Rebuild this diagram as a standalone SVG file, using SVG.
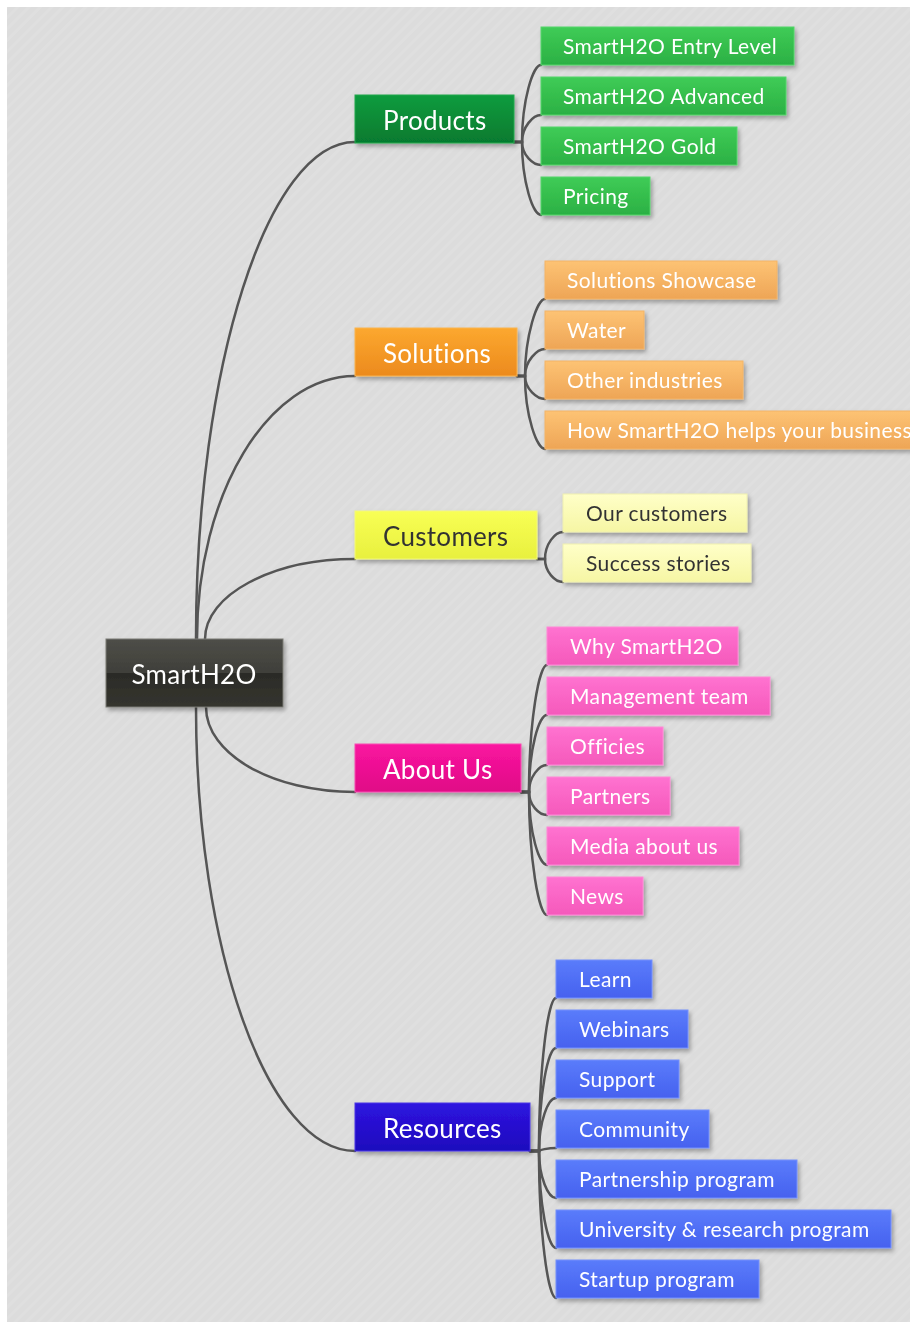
<svg xmlns="http://www.w3.org/2000/svg" width="910" height="1329" viewBox="0 0 910 1329">
<defs>
<pattern id="bgp" patternUnits="userSpaceOnUse" width="8" height="8" patternTransform="rotate(45)">
<rect width="8" height="8" fill="#dcdcdc"/>
<rect width="3" height="8" fill="#dfdfdf"/>
</pattern>
<filter id="sh" x="-10%" y="-20%" width="130%" height="160%">
<feDropShadow dx="2" dy="3" stdDeviation="2" flood-color="#000" flood-opacity="0.3"/>
</filter>
<linearGradient id="gRoot" x1="0" y1="0" x2="0" y2="1">
<stop offset="0" stop-color="#4e4e48"/><stop offset="0.5" stop-color="#3f3f3a"/><stop offset="0.5" stop-color="#2b2b27"/><stop offset="1" stop-color="#35352f"/>
</linearGradient>
<linearGradient id="gProdP" x1="0" y1="0" x2="0" y2="1"><stop offset="0" stop-color="#0f9c3e"/><stop offset="1" stop-color="#067a2f"/></linearGradient>
<linearGradient id="gProdC" x1="0" y1="0" x2="0" y2="1"><stop offset="0" stop-color="#3fcc56"/><stop offset="1" stop-color="#2bb044"/></linearGradient>
<linearGradient id="gSolP" x1="0" y1="0" x2="0" y2="1"><stop offset="0" stop-color="#fca82f"/><stop offset="1" stop-color="#ec8a1d"/></linearGradient>
<linearGradient id="gSolC" x1="0" y1="0" x2="0" y2="1"><stop offset="0" stop-color="#fdc374"/><stop offset="1" stop-color="#eea556"/></linearGradient>
<linearGradient id="gCusP" x1="0" y1="0" x2="0" y2="1"><stop offset="0" stop-color="#f8ff55"/><stop offset="1" stop-color="#e8f03e"/></linearGradient>
<linearGradient id="gCusC" x1="0" y1="0" x2="0" y2="1"><stop offset="0" stop-color="#ffffc8"/><stop offset="1" stop-color="#f6f6a4"/></linearGradient>
<linearGradient id="gAbP" x1="0" y1="0" x2="0" y2="1"><stop offset="0" stop-color="#fa14a0"/><stop offset="1" stop-color="#e00c86"/></linearGradient>
<linearGradient id="gAbC" x1="0" y1="0" x2="0" y2="1"><stop offset="0" stop-color="#ff72d0"/><stop offset="1" stop-color="#f559bb"/></linearGradient>
<linearGradient id="gResP" x1="0" y1="0" x2="0" y2="1"><stop offset="0" stop-color="#2f14e0"/><stop offset="1" stop-color="#1d0bbd"/></linearGradient>
<linearGradient id="gResC" x1="0" y1="0" x2="0" y2="1"><stop offset="0" stop-color="#5a7cfb"/><stop offset="1" stop-color="#4661ef"/></linearGradient>
</defs>
<style>
text{font-family:Lato,"Open Sans","Liberation Sans",sans-serif;fill:#ffffff}
.pt{font-size:26px;letter-spacing:0.3px}
.ct{font-size:21px;letter-spacing:0.4px}
.rt{font-size:26px;letter-spacing:0.3px}
.dk{fill:#333333}
.box{filter:url(#sh)}
.conn path{fill:none;stroke:#555555;stroke-width:2.5;stroke-linecap:round}
.root{fill:url(#gRoot);stroke:#7a7a74;stroke-width:1}
.prodP{fill:url(#gProdP);stroke:#23a84c;stroke-width:1}
.prodC{fill:url(#gProdC);stroke:#55d56a;stroke-width:1}
.solP{fill:url(#gSolP);stroke:#f9b34f;stroke-width:1}
.solC{fill:url(#gSolC);stroke:#f3b467;stroke-width:1}
.cusP{fill:url(#gCusP);stroke:#f3f97a;stroke-width:1}
.cusC{fill:url(#gCusC);stroke:#f0f0b0;stroke-width:1}
.abP{fill:url(#gAbP);stroke:#f84cb2;stroke-width:1}
.abC{fill:url(#gAbC);stroke:#ff88d6;stroke-width:1}
.resP{fill:url(#gResP);stroke:#4a36e6;stroke-width:1}
.resC{fill:url(#gResC);stroke:#7590fc;stroke-width:1}
</style>
<rect x="0" y="0" width="910" height="1329" fill="#ffffff"/>
<rect x="7" y="7" width="903" height="1315" fill="url(#bgp)"/>

<g id="connectors" class="conn">
<path d="M196,639 C196,366 268,142 355,142"/>
<path d="M197,639 C197,494 268,376 355,376"/>
<path d="M205,639 C205,595 272,559 355,559"/>
<path d="M206,707 C206,754 272,792 355,792"/>
<path d="M196,707 C196,950 268,1151 355,1151"/>
<path d="M514,142 H522 C522,100 533,65 541,65"/>
<path d="M514,142 H522 C522,127 533,115 541,115"/>
<path d="M514,142 H522 C522,155 533,165 541,165"/>
<path d="M514,142 H522 C522,182 533,215 541,215"/>
<path d="M517,376 H525 C525,336 537,299 545,299"/>
<path d="M517,376 H525 C525,361 537,349 545,349"/>
<path d="M517,376 H525 C525,389 537,399 545,399"/>
<path d="M517,376 H525 C525,416 537,449 545,449"/>
<path d="M537,559 H545 C545,544 555,532 563,532"/>
<path d="M537,559 H545 C545,572 555,582 563,582"/>
<path d="M521,792 H529 C529,722 539,665 547,665"/>
<path d="M521,792 H529 C529,749 539,715 547,715"/>
<path d="M521,792 H529 C529,777 539,765 547,765"/>
<path d="M521,792 H529 C529,805 539,815 547,815"/>
<path d="M521,792 H529 C529,832 539,865 547,865"/>
<path d="M521,792 H529 C529,860 539,915 547,915"/>
<path d="M530,1151 H539 C539,1067 548,998 556,998"/>
<path d="M530,1151 H539 C539,1094 548,1048 556,1048"/>
<path d="M530,1151 H539 C539,1122 548,1098 556,1098"/>
<path d="M530,1151 H539 C539,1150 548,1148 556,1148"/>
<path d="M530,1151 H539 C539,1177 548,1198 556,1198"/>
<path d="M530,1151 H539 C539,1205 548,1248 556,1248"/>
<path d="M530,1151 H539 C539,1232 548,1298 556,1298"/>
</g>

<g id="root" class="box"><rect class="root" x="106" y="639" width="177" height="68"/><text class="rt" x="194" y="684" text-anchor="middle">SmartH2O</text></g>

<g id="products" class="box"><rect class="prodP" x="355" y="95" width="159" height="48"/><text class="pt" x="383" y="130">Products</text></g>
<g id="p-entry" class="box"><rect class="prodC" x="541" y="27" width="253" height="38"/><text class="ct" x="563" y="54">SmartH2O Entry Level</text></g>
<g id="p-adv" class="box"><rect class="prodC" x="541" y="77" width="245" height="38"/><text class="ct" x="563" y="104">SmartH2O Advanced</text></g>
<g id="p-gold" class="box"><rect class="prodC" x="541" y="127" width="196" height="38"/><text class="ct" x="563" y="154">SmartH2O Gold</text></g>
<g id="p-pricing" class="box"><rect class="prodC" x="541" y="177" width="109" height="38"/><text class="ct" x="563" y="204">Pricing</text></g>

<g id="solutions" class="box"><rect class="solP" x="355" y="328" width="162" height="48"/><text class="pt" x="383" y="363">Solutions</text></g>
<g id="s-showcase" class="box"><rect class="solC" x="545" y="261" width="232" height="38"/><text class="ct" x="567" y="288">Solutions Showcase</text></g>
<g id="s-water" class="box"><rect class="solC" x="545" y="311" width="99" height="38"/><text class="ct" x="567" y="338">Water</text></g>
<g id="s-other" class="box"><rect class="solC" x="545" y="361" width="198" height="38"/><text class="ct" x="567" y="388">Other industries</text></g>
<g id="s-how" class="box"><rect class="solC" x="545" y="411" width="380" height="38"/><text class="ct" x="567" y="438">How SmartH2O helps your business</text></g>

<g id="customers" class="box"><rect class="cusP" x="355" y="511" width="182" height="48"/><text class="pt dk" x="383" y="546">Customers</text></g>
<g id="c-our" class="box"><rect class="cusC" x="563" y="494" width="184" height="38"/><text class="ct dk" x="586" y="521">Our customers</text></g>
<g id="c-success" class="box"><rect class="cusC" x="563" y="544" width="188" height="38"/><text class="ct dk" x="586" y="571">Success stories</text></g>

<g id="about" class="box"><rect class="abP" x="355" y="744" width="166" height="48"/><text class="pt" x="383" y="779">About Us</text></g>
<g id="a-why" class="box"><rect class="abC" x="547" y="627" width="191" height="38"/><text class="ct" x="570" y="654">Why SmartH2O</text></g>
<g id="a-mgmt" class="box"><rect class="abC" x="547" y="677" width="223" height="38"/><text class="ct" x="570" y="704">Management team</text></g>
<g id="a-off" class="box"><rect class="abC" x="547" y="727" width="116" height="38"/><text class="ct" x="570" y="754">Officies</text></g>
<g id="a-part" class="box"><rect class="abC" x="547" y="777" width="123" height="38"/><text class="ct" x="570" y="804">Partners</text></g>
<g id="a-media" class="box"><rect class="abC" x="547" y="827" width="192" height="38"/><text class="ct" x="570" y="854">Media about us</text></g>
<g id="a-news" class="box"><rect class="abC" x="547" y="877" width="96" height="38"/><text class="ct" x="570" y="904">News</text></g>

<g id="resources" class="box"><rect class="resP" x="355" y="1103" width="175" height="48"/><text class="pt" x="383" y="1138">Resources</text></g>
<g id="r-learn" class="box"><rect class="resC" x="556" y="960" width="96" height="38"/><text class="ct" x="579" y="987">Learn</text></g>
<g id="r-web" class="box"><rect class="resC" x="556" y="1010" width="132" height="38"/><text class="ct" x="579" y="1037">Webinars</text></g>
<g id="r-sup" class="box"><rect class="resC" x="556" y="1060" width="123" height="38"/><text class="ct" x="579" y="1087">Support</text></g>
<g id="r-comm" class="box"><rect class="resC" x="556" y="1110" width="153" height="38"/><text class="ct" x="579" y="1137">Community</text></g>
<g id="r-partner" class="box"><rect class="resC" x="556" y="1160" width="241" height="38"/><text class="ct" x="579" y="1187">Partnership program</text></g>
<g id="r-univ" class="box"><rect class="resC" x="556" y="1210" width="335" height="38"/><text class="ct" x="579" y="1237">University &amp; research program</text></g>
<g id="r-startup" class="box"><rect class="resC" x="556" y="1260" width="203" height="38"/><text class="ct" x="579" y="1287">Startup program</text></g>
</svg>
